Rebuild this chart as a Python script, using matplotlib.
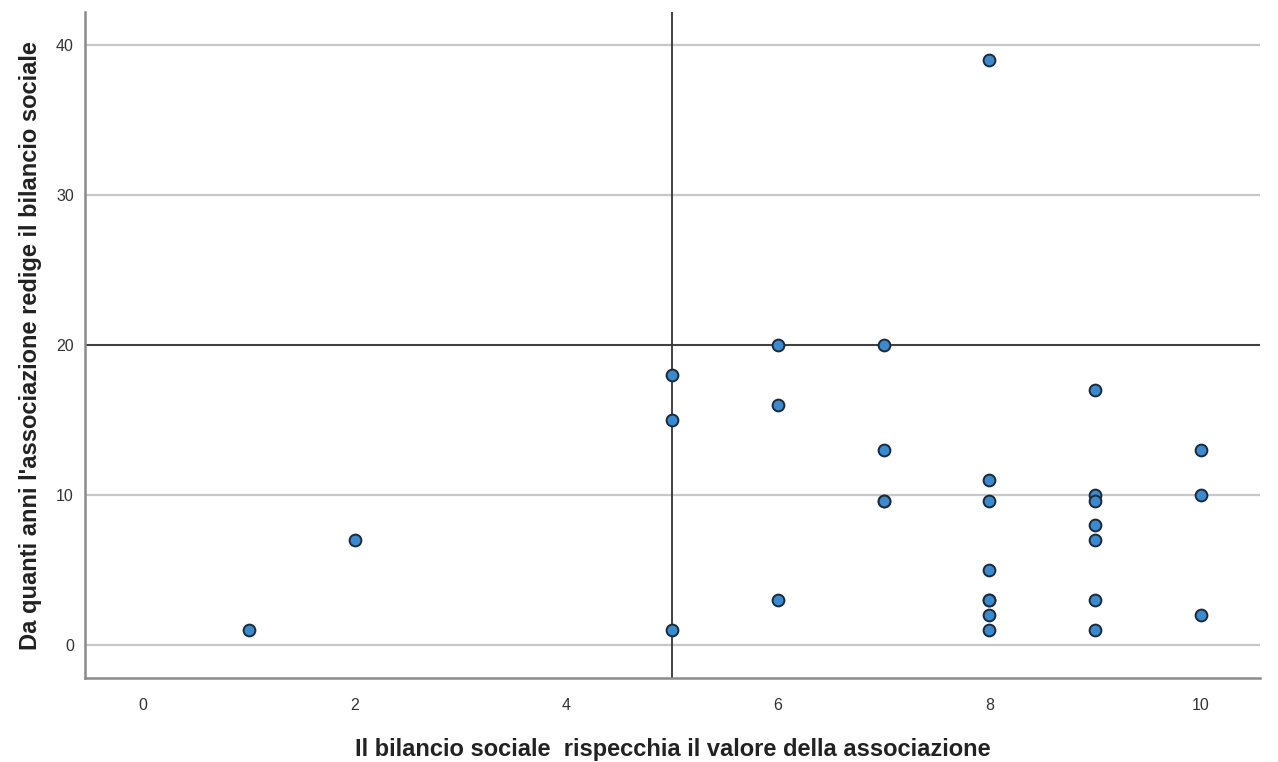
import matplotlib
matplotlib.use("Agg")
import matplotlib.pyplot as plt
from matplotlib import font_manager

x_vals = [1, 2, 5, 5, 5, 6, 6, 6, 7, 7, 7, 7, 8, 8, 8, 8, 8, 8, 8, 8, 9, 9, 9, 9, 9, 9, 9, 10, 10, 10]
y_vals = [1, 7, 18, 15, 1, 20, 16, 3, 20, 13, 9.6, 9.6, 39, 11, 9.6, 5, 3, 3, 2, 1, 17, 10, 9.6, 8, 7, 3, 1, 13, 10, 2]
x_ticks = [0, 2, 4, 6, 8, 10]
y_ticks = [0, 10, 20, 30, 40]
ref_x = 5
ref_y = 20
x_label = "Il bilancio sociale  rispecchia il valore della associazione"
y_label = "Da quanti anni l'associazione redige il bilancio sociale"

names = {f.name for f in font_manager.fontManager.ttflist}
narrow = "Liberation Sans Narrow" if "Liberation Sans Narrow" in names else "Liberation Sans"

fig = plt.figure(figsize=(12.78, 7.62), dpi=100)
ax = fig.add_axes([0.0665, 0.110, 0.9195, 0.874])
ax.set_xlim(-0.55, 10.56)
ax.set_ylim(-2.2, 42.2)

ax.set_yticks(y_ticks)
ax.set_xticks(x_ticks)
ax.yaxis.grid(True, color="#c8c8c8", linewidth=1.6, zorder=0)
ax.set_axisbelow(True)

ax.axvline(ref_x, color="#333333", linewidth=1.3, zorder=1)
ax.axhline(ref_y, color="#333333", linewidth=1.3, zorder=1)

ax.scatter(x_vals, y_vals, s=72, facecolor="#3a8ad0", edgecolor="#1c2a38", linewidth=1.4, zorder=3)

for s in ["top", "right"]:
    ax.spines[s].set_visible(False)
for s in ["left", "bottom"]:
    ax.spines[s].set_color("#8a8a8a")
    ax.spines[s].set_linewidth(1.8)

ax.tick_params(axis="both", length=0, labelsize=11.5, labelcolor="#333333", pad=8)
ax.tick_params(axis="x", pad=14)
for lab in ax.get_xticklabels() + ax.get_yticklabels():
    lab.set_family(narrow)

ax.set_xlabel(x_label, fontsize=17, fontweight="bold", family=narrow, color="#222222", labelpad=18)
ax.set_ylabel(y_label, fontsize=17, fontweight="bold", family=narrow, color="#222222", labelpad=10)

fig.savefig("out.png", dpi=100, facecolor="white")
